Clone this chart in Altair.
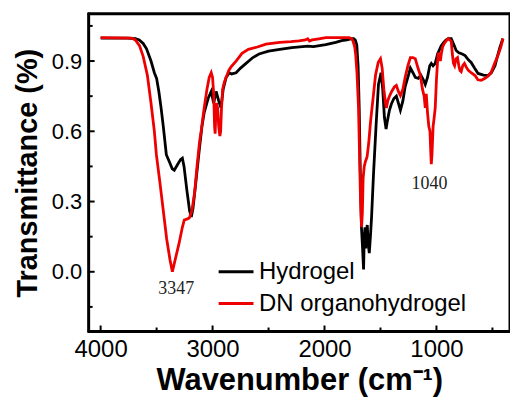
import altair as alt
import pandas as pd

# ---- data ----
hyd_wn = [4000, 3760, 3690, 3655, 3620, 3590, 3550, 3520, 3500, 3480, 3460, 3440, 3413, 3386, 3360, 3342, 3310, 3285, 3270, 3255, 3230, 3205, 3190, 3175, 3150, 3119, 3095, 3075, 3040, 3012, 2990, 2968, 2945, 2925, 2905, 2879, 2850, 2830, 2790, 2750, 2701, 2640, 2585, 2500, 2400, 2292, 2150, 2100, 1989, 1900, 1847, 1800, 1758, 1740, 1725, 1712, 1700, 1690, 1680, 1670, 1660, 1651, 1645, 1638, 1632, 1625, 1618, 1610, 1600, 1590, 1580, 1562, 1540, 1518, 1495, 1480, 1465, 1450, 1440, 1420, 1400, 1380, 1358, 1340, 1322, 1300, 1280, 1250, 1233, 1210, 1189, 1162, 1140, 1117, 1100, 1080, 1060, 1046, 1030, 1011, 990, 957, 935, 914, 890, 868, 845, 824, 800, 770, 744, 715, 690, 660, 628, 580, 539, 510, 477, 450, 432, 406]
hyd_t = [0.998, 0.998, 0.996, 0.99, 0.975, 0.952, 0.90, 0.85, 0.826, 0.77, 0.70, 0.62, 0.50, 0.47, 0.44, 0.434, 0.46, 0.48, 0.485, 0.45, 0.35, 0.26, 0.234, 0.27, 0.38, 0.52, 0.62, 0.68, 0.74, 0.77, 0.72, 0.77, 0.73, 0.70, 0.78, 0.83, 0.85, 0.845, 0.85, 0.87, 0.89, 0.915, 0.93, 0.942, 0.95, 0.957, 0.964, 0.962, 0.97, 0.98, 0.987, 0.99, 0.996, 0.996, 0.99, 0.97, 0.88, 0.70, 0.42, 0.19, 0.10, 0.01, 0.15, 0.19, 0.10, 0.17, 0.20, 0.12, 0.08, 0.15, 0.23, 0.42, 0.62, 0.80, 0.85, 0.78, 0.66, 0.61, 0.64, 0.69, 0.72, 0.74, 0.75, 0.72, 0.69, 0.73, 0.79, 0.84, 0.87, 0.85, 0.83, 0.826, 0.84, 0.82, 0.80, 0.83, 0.88, 0.89, 0.88, 0.89, 0.93, 0.966, 0.98, 0.99, 0.996, 0.996, 0.97, 0.945, 0.935, 0.93, 0.923, 0.905, 0.894, 0.87, 0.847, 0.84, 0.838, 0.85, 0.88, 0.93, 0.96, 0.996]

dn_wn = [4000, 3724, 3690, 3653, 3620, 3582, 3550, 3520, 3502, 3470, 3440, 3410, 3380, 3359, 3330, 3300, 3270, 3253, 3230, 3208, 3185, 3160, 3137, 3115, 3101, 3075, 3050, 3030, 3012, 3000, 2990, 2982, 2977, 2972, 2965, 2955, 2945, 2935, 2928, 2920, 2910, 2895, 2879, 2855, 2835, 2790, 2737, 2680, 2600, 2523, 2400, 2300, 2229, 2170, 2150, 2135, 2110, 2050, 1989, 1850, 1780, 1758, 1745, 1730, 1722, 1710, 1696, 1685, 1678, 1669, 1662, 1655, 1645, 1635, 1620, 1605, 1589, 1562, 1544, 1520, 1500, 1485, 1470, 1455, 1447, 1435, 1420, 1400, 1375, 1358, 1340, 1322, 1300, 1280, 1255, 1233, 1210, 1189, 1165, 1144, 1125, 1110, 1100, 1091, 1080, 1068, 1058, 1050, 1046, 1040, 1030, 1020, 1011, 1000, 990, 984, 975, 965, 957, 945, 930, 915, 895, 880, 868, 858, 848, 838, 825, 812, 800, 790, 779, 765, 750, 735, 715, 690, 655, 630, 600, 566, 540, 512, 480, 450, 425, 406]
dn_t = [1.0, 0.998, 0.99, 0.966, 0.92, 0.838, 0.72, 0.60, 0.50, 0.38, 0.26, 0.14, 0.05, 0.0, 0.06, 0.12, 0.19, 0.221, 0.225, 0.23, 0.26, 0.34, 0.46, 0.56, 0.604, 0.70, 0.78, 0.83, 0.85, 0.83, 0.76, 0.62, 0.59, 0.66, 0.72, 0.70, 0.62, 0.58, 0.60, 0.70, 0.78, 0.81, 0.83, 0.86, 0.875, 0.90, 0.933, 0.95, 0.96, 0.972, 0.98, 0.983, 0.986, 0.99, 0.995, 0.985, 0.99, 0.995, 1.0, 1.0, 1.0, 0.995, 0.985, 0.96, 0.93, 0.85, 0.70, 0.45, 0.30, 0.19, 0.25, 0.40, 0.45, 0.47, 0.49, 0.55, 0.64, 0.76, 0.84, 0.895, 0.91, 0.87, 0.78, 0.72, 0.70, 0.73, 0.75, 0.77, 0.79, 0.796, 0.77, 0.753, 0.78, 0.83, 0.88, 0.915, 0.915, 0.91, 0.87, 0.84, 0.78, 0.75, 0.70, 0.76, 0.68, 0.62, 0.60, 0.50, 0.46, 0.50, 0.62, 0.66, 0.70, 0.82, 0.90, 0.936, 0.92, 0.90, 0.93, 0.96, 0.975, 0.985, 0.996, 0.99, 0.985, 0.93, 0.89, 0.88, 0.91, 0.915, 0.88, 0.86, 0.855, 0.88, 0.89, 0.875, 0.86, 0.85, 0.838, 0.82, 0.818, 0.826, 0.835, 0.851, 0.89, 0.925, 0.96, 0.996]

series_names = ["Hydrogel", "DN organohydrogel"]
series_colors = ["#000000", "#ee0000"]

x_major = [4000, 3000, 2000, 1000]
x_minor = [3500, 2500, 1500, 500]
y_major = [0.0, 0.3, 0.6, 0.9]
y_minor = [-0.15, 0.15, 0.45, 0.75, 1.05]

ann_text = ["3347", "1040"]
ann_wn = [3325, 1062]
ann_t = [-0.075, 0.375]

# ---- tables ----
df = pd.concat([
    pd.DataFrame({"wn": hyd_wn, "t": hyd_t, "series": series_names[0]}),
    pd.DataFrame({"wn": dn_wn, "t": dn_t, "series": series_names[1]}),
], ignore_index=True)

W, H = 423, 319
FONT = "Liberation Sans"

xscale = alt.Scale(domain=[4107, 343], nice=False, zero=False)
yscale = alt.Scale(domain=[-0.255, 1.102], nice=False, zero=False)

lines = alt.Chart(df).mark_line(strokeWidth=2.8, clip=True).encode(
    x=alt.X("wn:Q", scale=xscale,
            axis=alt.Axis(values=x_major, ticks=False, domain=False, grid=False,
                          labelFontSize=24, labelPadding=6, labelColor="black",
                          labelFont=FONT, format="d",
                          title="Wavenumber (cm\u207b\u00b9)", titleFontSize=31,
                          titleFont=FONT, titleFontWeight="bold", titleColor="black",
                          titlePadding=4)),
    y=alt.Y("t:Q", scale=yscale,
            axis=alt.Axis(values=y_major, ticks=False, domain=False, grid=False,
                          labelFontSize=22, labelPadding=7, labelColor="black",
                          labelFont=FONT, format=".1f",
                          title="Transmittance (%)", titleFontSize=29,
                          titleFont=FONT, titleFontWeight="bold", titleColor="black",
                          titlePadding=9)),
    color=alt.Color("series:N",
                    scale=alt.Scale(domain=series_names, range=series_colors),
                    legend=alt.Legend(orient="none", legendX=129, legendY=240,
                                      title=None, symbolType="stroke",
                                      symbolStrokeWidth=3, symbolSize=1225,
                                      labelFontSize=24, labelFont=FONT,
                                      labelColor="black", labelOffset=4,
                                      labelLimit=400,
                                      rowPadding=1, padding=0)),
)

kdf = pd.DataFrame({"k": [0]})
frame_top = alt.Chart(kdf).mark_rule(color="black", strokeWidth=3).encode(
    x=alt.value(-1), x2=alt.value(W + 1), y=alt.value(0))
frame_bottom = alt.Chart(kdf).mark_rule(color="black", strokeWidth=3).encode(
    x=alt.value(-1), x2=alt.value(W + 1), y=alt.value(H))
frame_left = alt.Chart(kdf).mark_rule(color="black", strokeWidth=3).encode(
    y=alt.value(-1), y2=alt.value(H + 1), x=alt.value(0))
frame_right = alt.Chart(kdf).mark_rule(color="black", strokeWidth=3).encode(
    y=alt.value(-1), y2=alt.value(H + 1), x=alt.value(W))

xt_major = alt.Chart(pd.DataFrame({"wn": x_major})).mark_rule(color="black", strokeWidth=2).encode(
    x=alt.X("wn:Q", scale=xscale), y=alt.value(H), y2=alt.value(H - 6))
xt_minor = alt.Chart(pd.DataFrame({"wn": x_minor})).mark_rule(color="black", strokeWidth=2).encode(
    x=alt.X("wn:Q", scale=xscale), y=alt.value(H), y2=alt.value(H - 4))
yt_major = alt.Chart(pd.DataFrame({"t": y_major})).mark_rule(color="black", strokeWidth=2).encode(
    y=alt.Y("t:Q", scale=yscale), x=alt.value(0), x2=alt.value(6))
yt_minor = alt.Chart(pd.DataFrame({"t": y_minor})).mark_rule(color="black", strokeWidth=2).encode(
    y=alt.Y("t:Q", scale=yscale), x=alt.value(0), x2=alt.value(4))

ann = alt.Chart(pd.DataFrame({"wn": ann_wn, "t": ann_t, "label": ann_text})).mark_text(
    font="Liberation Serif", fontSize=18, color="#222222", align="center", baseline="middle"
).encode(x=alt.X("wn:Q", scale=xscale), y=alt.Y("t:Q", scale=yscale), text="label:N")

chart = alt.layer(lines, frame_top, frame_bottom, frame_left, frame_right,
                  xt_major, xt_minor, yt_major, yt_minor, ann).properties(
    width=W, height=H,
    background="white",
    autosize=alt.AutoSizeParams(type="none"),
    padding={"left": 89, "top": 13, "right": 0, "bottom": 73},
).configure_view(stroke=None)

chart.save("out.html", embed_options={"renderer": "svg", "actions": False})
